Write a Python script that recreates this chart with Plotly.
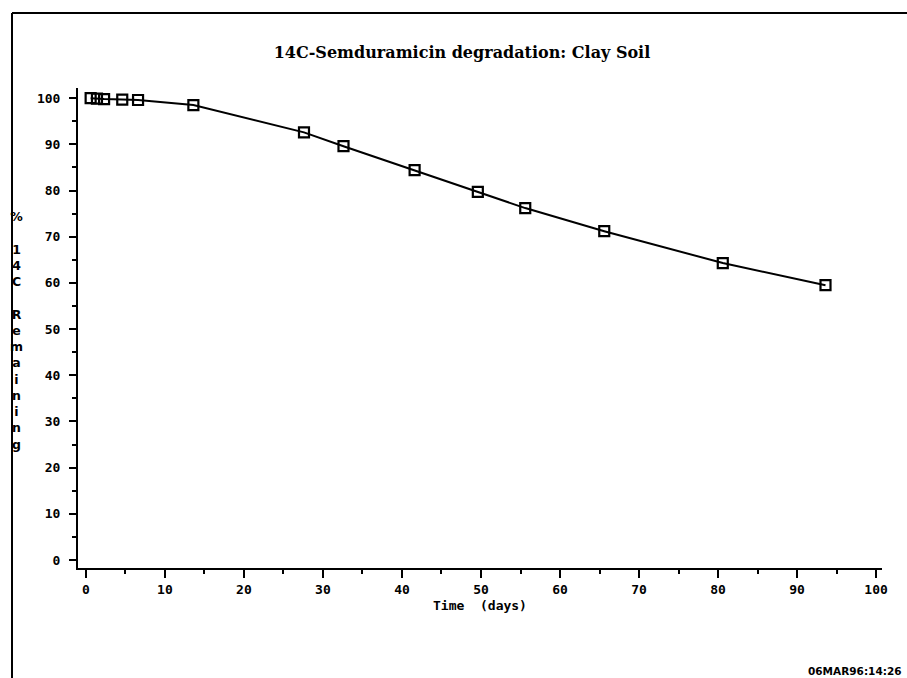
import plotly.graph_objects as go

# Data
days = [0.6, 1.4, 2.3, 4.6, 6.6, 13.6, 27.6, 32.6, 41.6, 49.6, 55.6, 65.6, 80.6, 93.6]
pct_remaining = [100.0, 99.9, 99.8, 99.7, 99.6, 98.5, 92.6, 89.6, 84.4, 79.7, 76.2, 71.2, 64.3, 59.5]

x_ticks = list(range(0, 101, 10))
y_ticks = list(range(0, 101, 10))

title_text = "14C-Semduramicin degradation: Clay Soil"
x_title = "Time  (days)"
y_title = "% 14C Remaining"
stamp = "06MAR96:14:26"

W, H = 907, 678
L, R, T, B = 78, 907 - 882, 88, 678 - 568
pw, ph = W - L - R, H - T - B


def px_x(px):
    return (px - L) / pw


def px_y(py):
    return (H - B - py) / ph


fig = go.Figure()
fig.add_trace(go.Scatter(
    x=days, y=pct_remaining, mode="lines+markers",
    line=dict(color="black", width=2),
    marker=dict(symbol="square-open", size=10, color="black", line=dict(width=2.2)),
    showlegend=False,
))

fig.update_layout(
    width=W, height=H,
    margin=dict(l=L, r=R, t=T, b=B),
    paper_bgcolor="white", plot_bgcolor="white",
    xaxis=dict(
        range=[-1.0, 100.75], tickvals=x_ticks, ticktext=[str(v) for v in x_ticks],
        showgrid=False, zeroline=False, showline=True, linecolor="black", linewidth=2,
        ticks="outside", ticklen=8, tickwidth=2, tickcolor="black",
        minor=dict(dtick=5, tick0=0, ticks="outside", ticklen=4, tickwidth=2, tickcolor="black"),
        tickfont=dict(family="DejaVu Sans Mono", size=13, color="black", weight="bold"),
        title=dict(text=x_title, font=dict(family="DejaVu Sans Mono", size=13, color="black", weight="bold"), standoff=5),
    ),
    yaxis=dict(
        range=[-1.73, 102.2], tickvals=y_ticks, ticktext=[str(v) for v in y_ticks],
        showgrid=False, zeroline=False, showline=True, linecolor="black", linewidth=2,
        ticks="outside", ticklen=7, tickwidth=2, tickcolor="black",
        minor=dict(dtick=5, tick0=0, ticks="outside", ticklen=4, tickwidth=2, tickcolor="black"),
        tickfont=dict(family="DejaVu Sans Mono", size=13, color="black", weight="bold"),
        ticklabelstandoff=6,
    ),
    title=dict(text=title_text, xref="container", x=462 / W, xanchor="center", y=1 - 52 / H, yanchor="middle",
               font=dict(family="DejaVu Serif", size=16, color="black", weight="bold")),
)

# vertical stacked y-axis title
stack = "<br>".join(ch if ch != " " else " " for ch in y_title)
fig.add_annotation(
    text=stack, xref="paper", yref="paper", x=px_x(16), y=px_y(330),
    xanchor="center", yanchor="middle", showarrow=False, align="center",
    font=dict(family="DejaVu Sans", size=12.5, color="black", weight="bold"),
)

# date stamp
fig.add_annotation(
    text=stamp, xref="paper", yref="paper", x=px_x(806), y=px_y(671),
    xanchor="left", yanchor="middle", showarrow=False,
    font=dict(family="DejaVu Sans", size=10.5, color="black", weight="bold"),
)

# page frame (top and left border lines)
fig.add_shape(type="line", xref="paper", yref="paper", x0=px_x(12), x1=px_x(907), y0=px_y(13), y1=px_y(13),
              line=dict(color="black", width=2))
fig.add_shape(type="line", xref="paper", yref="paper", x0=px_x(12), x1=px_x(12), y0=px_y(13), y1=px_y(678),
              line=dict(color="black", width=2))

fig.write_html("out.html")
